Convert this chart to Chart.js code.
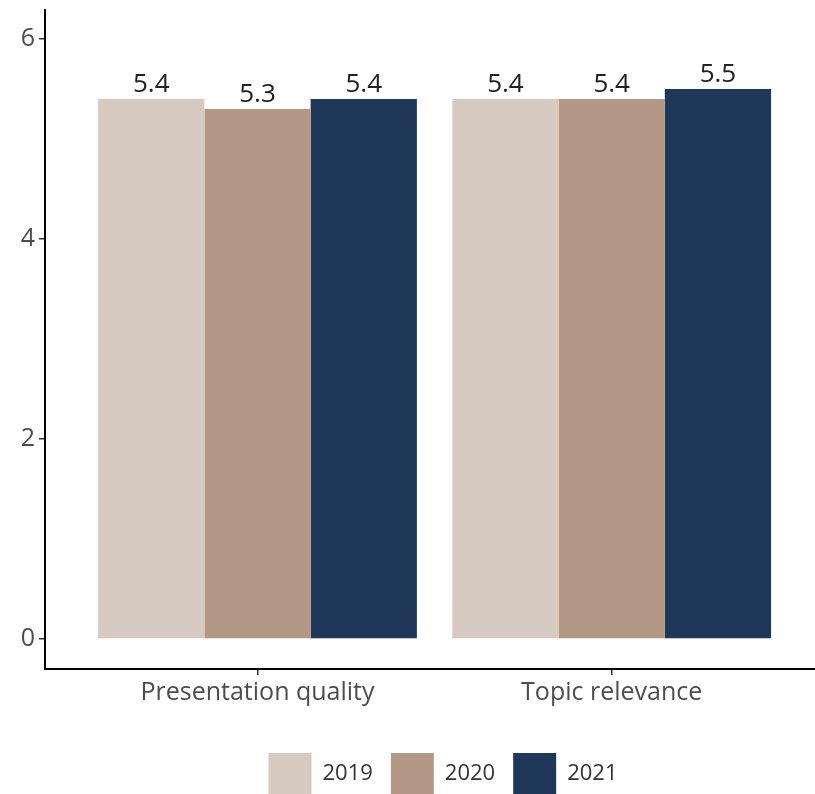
<!DOCTYPE html>
<html><head><meta charset="utf-8">
<script src="https://cdn.jsdelivr.net/npm/chart.js@4.4.0/dist/chart.umd.min.js"></script>
<style>html,body{margin:0;padding:0;background:#fff;overflow:hidden}#wrap{width:815px;height:794px;position:relative}</style>
</head><body><div id="wrap"><canvas id="c"></canvas></div>
<script>
const categories = ["Presentation quality", "Topic relevance"];
const years = ["2019", "2020", "2021"];
const values2019 = [5.4, 5.4];
const values2020 = [5.3, 5.4];
const values2021 = [5.4, 5.5];
const yTicks = [0, 2, 4, 6];
const colors = ["#d7cac0", "#b39985", "#1f3759"];

const FAMILY = '"Open Sans", sans-serif';
const seriesValues = [values2019, values2020, values2021];

const valueLabels = {
  id: 'valueLabels',
  afterDatasetsDraw(chart) {
    const ctx = chart.ctx;
    ctx.save();
    ctx.font = '26px ' + FAMILY;
    ctx.fillStyle = '#222';
    ctx.textAlign = 'center';
    ctx.textBaseline = 'alphabetic';
    chart.data.datasets.forEach((ds, di) => {
      const meta = chart.getDatasetMeta(di);
      meta.data.forEach((el, i) => {
        ctx.fillText(ds.data[i].y.toFixed(1), el.x, el.y - 7);
      });
    });
    ctx.restore();
  }
};

const legendShift = {
  id: 'legendShift',
  afterLayout(chart) {
    const l = chart.legend;
    if (l) { l.left += 13; l.right += 13; }
  }
};

new Chart(document.getElementById('c'), {
  type: 'bar',
  data: {
    datasets: years.map((yr, k) => ({
      label: yr,
      data: categories.map((c, i) => ({ x: i + 1, y: seriesValues[k][i] })),
      backgroundColor: colors[k],
      borderWidth: 0,
      categoryPercentage: 0.9,
      barPercentage: 1.0
    }))
  },
  options: {
    responsive: true,
    maintainAspectRatio: false,
    animation: false,
    devicePixelRatio: 1,
    layout: { padding: { top: 10, bottom: -10, left: 0, right: 0 } },
    scales: {
      x: {
        type: 'linear',
        offset: false,
        min: 0.4,
        max: 2.574,
        afterBuildTicks: s => { s.ticks = categories.map((c, i) => ({ value: i + 1 })); },
        afterFit: s => { s.height = 66; s.paddingLeft = 0; s.paddingRight = 0; },
        ticks: {
          callback: v => categories[v - 1] || '',
          font: { family: FAMILY, size: 25 },
          color: '#4d4d4d',
          padding: 3,
          maxRotation: 0,
          autoSkip: false
        },
        grid: { offset: false, drawOnChartArea: false, tickLength: 6, color: '#333', lineWidth: 1.5 },
        border: { color: '#000', width: 2 }
      },
      y: {
        type: 'linear',
        min: -0.3,
        max: 6.29,
        afterBuildTicks: s => { s.ticks = yTicks.map(v => ({ value: v })); },
        afterFit: s => { s.width = 45; s.paddingTop = 0; s.paddingBottom = 0; },
        ticks: {
          font: { family: FAMILY, size: 25 },
          color: '#4d4d4d',
          padding: 4
        },
        grid: { drawOnChartArea: false, tickLength: 6, color: '#333', lineWidth: 1.5 },
        border: { color: '#000', width: 2 }
      }
    },
    plugins: {
      tooltip: { enabled: false },
      legend: {
        position: 'bottom',
        fullSize: false,
        labels: {
          boxWidth: 43,
          boxHeight: 41,
          padding: 18,
          color: '#333',
          font: { family: FAMILY, size: 22 }
        }
      }
    }
  },
  plugins: [valueLabels, legendShift]
});
</script>
</body></html>
